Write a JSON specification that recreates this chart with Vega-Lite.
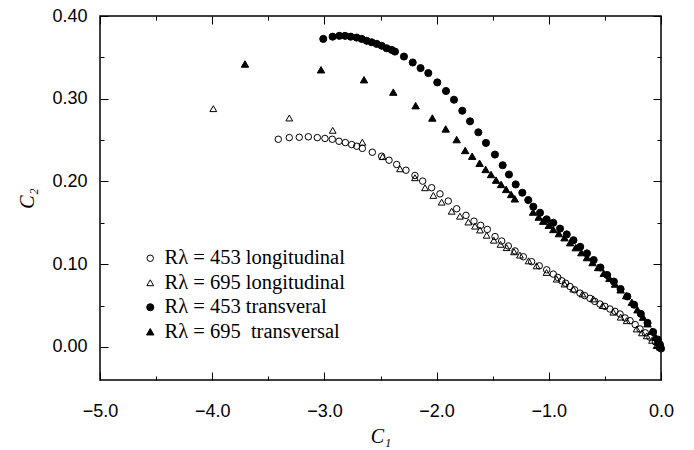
{
 "$schema": "https://vega.github.io/schema/vega-lite/v6.json",
 "width": 561, "height": 364,
 "autosize": {"type": "none"},
 "padding": {"left": 100, "top": 16, "right": 33, "bottom": 70},
 "background": "white",
 "config": {"view": {"stroke": "black", "strokeWidth": 1.5}, "axis": {"grid": false},
   "legend": {"orient": "none", "legendX": 40, "legendY": 232, "title": null, "padding": 0, "labelFont": "Liberation Serif", "labelFontSize": 20.5, "labelColor": "black", "labelLimit": 400, "symbolStrokeColor": "black", "symbolStrokeWidth": 1, "rowPadding": 3.5, "labelOffset": 4}},
 "datasets": {
  "pts": [
   {"s":"Rλ = 453 longitudinal","x":-3.411,"y":0.251},{"s":"Rλ = 453 longitudinal","x":-3.313,"y":0.253},{"s":"Rλ = 453 longitudinal","x":-3.224,"y":0.2534},{"s":"Rλ = 453 longitudinal","x":-3.143,"y":0.254},{"s":"Rλ = 453 longitudinal","x":-3.063,"y":0.253},{"s":"Rλ = 453 longitudinal","x":-2.995,"y":0.252},{"s":"Rλ = 453 longitudinal","x":-2.93,"y":0.251},{"s":"Rλ = 453 longitudinal","x":-2.87,"y":0.2486},{"s":"Rλ = 453 longitudinal","x":-2.813,"y":0.247},{"s":"Rλ = 453 longitudinal","x":-2.757,"y":0.2446},{"s":"Rλ = 453 longitudinal","x":-2.712,"y":0.2426},{"s":"Rλ = 453 longitudinal","x":-2.662,"y":0.24},{"s":"Rλ = 453 longitudinal","x":-2.573,"y":0.2353},{"s":"Rλ = 453 longitudinal","x":-2.49,"y":0.2305},{"s":"Rλ = 453 longitudinal","x":-2.424,"y":0.2257},{"s":"Rλ = 453 longitudinal","x":-2.356,"y":0.2205},{"s":"Rλ = 453 longitudinal","x":-2.273,"y":0.2136},{"s":"Rλ = 453 longitudinal","x":-2.193,"y":0.2072},{"s":"Rλ = 453 longitudinal","x":-2.124,"y":0.2004},{"s":"Rλ = 453 longitudinal","x":-2.044,"y":0.1924},{"s":"Rλ = 453 longitudinal","x":-1.97,"y":0.185},{"s":"Rλ = 453 longitudinal","x":-1.896,"y":0.1763},{"s":"Rλ = 453 longitudinal","x":-1.821,"y":0.167},{"s":"Rλ = 453 longitudinal","x":-1.738,"y":0.159},{"s":"Rλ = 453 longitudinal","x":-1.667,"y":0.152},{"s":"Rλ = 453 longitudinal","x":-1.607,"y":0.147},{"s":"Rλ = 453 longitudinal","x":-1.548,"y":0.142},{"s":"Rλ = 453 longitudinal","x":-1.479,"y":0.1334},{"s":"Rλ = 453 longitudinal","x":-1.42,"y":0.128},{"s":"Rλ = 453 longitudinal","x":-1.361,"y":0.122},{"s":"Rλ = 453 longitudinal","x":-1.301,"y":0.116},{"s":"Rλ = 453 longitudinal","x":-1.227,"y":0.109},{"s":"Rλ = 453 longitudinal","x":-1.153,"y":0.103},{"s":"Rλ = 453 longitudinal","x":-1.085,"y":0.098},{"s":"Rλ = 453 longitudinal","x":-1.019,"y":0.0932},{"s":"Rλ = 453 longitudinal","x":-0.96,"y":0.088},{"s":"Rλ = 453 longitudinal","x":-0.92,"y":0.084},{"s":"Rλ = 453 longitudinal","x":-0.885,"y":0.08},{"s":"Rλ = 453 longitudinal","x":-0.85,"y":0.077},{"s":"Rλ = 453 longitudinal","x":-0.811,"y":0.073},{"s":"Rλ = 453 longitudinal","x":-0.77,"y":0.069},{"s":"Rλ = 453 longitudinal","x":-0.722,"y":0.065},{"s":"Rλ = 453 longitudinal","x":-0.68,"y":0.062},{"s":"Rλ = 453 longitudinal","x":-0.633,"y":0.0587},{"s":"Rλ = 453 longitudinal","x":-0.59,"y":0.055},{"s":"Rλ = 453 longitudinal","x":-0.544,"y":0.0518},{"s":"Rλ = 453 longitudinal","x":-0.5,"y":0.049},{"s":"Rλ = 453 longitudinal","x":-0.455,"y":0.0458},{"s":"Rλ = 453 longitudinal","x":-0.41,"y":0.043},{"s":"Rλ = 453 longitudinal","x":-0.365,"y":0.0398},{"s":"Rλ = 453 longitudinal","x":-0.32,"y":0.035},{"s":"Rλ = 453 longitudinal","x":-0.276,"y":0.0317},{"s":"Rλ = 453 longitudinal","x":-0.23,"y":0.027},{"s":"Rλ = 453 longitudinal","x":-0.187,"y":0.0217},{"s":"Rλ = 453 longitudinal","x":-0.14,"y":0.017},{"s":"Rλ = 453 longitudinal","x":-0.098,"y":0.0117},{"s":"Rλ = 453 longitudinal","x":-0.05,"y":0.006},{"s":"Rλ = 453 longitudinal","x":-0.02,"y":0.002},{"s":"Rλ = 453 longitudinal","x":-0.005,"y":0.0005},
   {"s":"Rλ = 695 longitudinal","x":-3.99,"y":0.288},{"s":"Rλ = 695 longitudinal","x":-3.313,"y":0.2767},{"s":"Rλ = 695 longitudinal","x":-2.926,"y":0.2618},{"s":"Rλ = 695 longitudinal","x":-2.662,"y":0.2474},{"s":"Rλ = 695 longitudinal","x":-2.481,"y":0.23},{"s":"Rλ = 695 longitudinal","x":-2.326,"y":0.2153},{"s":"Rλ = 695 longitudinal","x":-2.193,"y":0.2045},{"s":"Rλ = 695 longitudinal","x":-2.103,"y":0.1924},{"s":"Rλ = 695 longitudinal","x":-2.029,"y":0.1831},{"s":"Rλ = 695 longitudinal","x":-1.955,"y":0.175},{"s":"Rλ = 695 longitudinal","x":-1.866,"y":0.164},{"s":"Rλ = 695 longitudinal","x":-1.792,"y":0.158},{"s":"Rλ = 695 longitudinal","x":-1.717,"y":0.151},{"s":"Rλ = 695 longitudinal","x":-1.658,"y":0.146},{"s":"Rλ = 695 longitudinal","x":-1.613,"y":0.1413},{"s":"Rλ = 695 longitudinal","x":-1.554,"y":0.135},{"s":"Rλ = 695 longitudinal","x":-1.49,"y":0.129},{"s":"Rλ = 695 longitudinal","x":-1.43,"y":0.124},{"s":"Rλ = 695 longitudinal","x":-1.376,"y":0.12},{"s":"Rλ = 695 longitudinal","x":-1.31,"y":0.115},{"s":"Rλ = 695 longitudinal","x":-1.257,"y":0.111},{"s":"Rλ = 695 longitudinal","x":-1.18,"y":0.104},{"s":"Rλ = 695 longitudinal","x":-1.109,"y":0.098},{"s":"Rλ = 695 longitudinal","x":-1.02,"y":0.09},{"s":"Rλ = 695 longitudinal","x":-0.93,"y":0.082},{"s":"Rλ = 695 longitudinal","x":-0.86,"y":0.076},{"s":"Rλ = 695 longitudinal","x":-0.782,"y":0.07},{"s":"Rλ = 695 longitudinal","x":-0.7,"y":0.064},{"s":"Rλ = 695 longitudinal","x":-0.603,"y":0.058},{"s":"Rλ = 695 longitudinal","x":-0.52,"y":0.05},{"s":"Rλ = 695 longitudinal","x":-0.425,"y":0.042},{"s":"Rλ = 695 longitudinal","x":-0.36,"y":0.036},{"s":"Rλ = 695 longitudinal","x":-0.306,"y":0.0317},{"s":"Rλ = 695 longitudinal","x":-0.217,"y":0.0217},{"s":"Rλ = 695 longitudinal","x":-0.17,"y":0.017},{"s":"Rλ = 695 longitudinal","x":-0.127,"y":0.0134},{"s":"Rλ = 695 longitudinal","x":-0.08,"y":0.008},{"s":"Rλ = 695 longitudinal","x":-0.039,"y":0.0016},{"s":"Rλ = 695 longitudinal","x":-0.01,"y":0.0},
   {"s":"Rλ = 453 transveral","x":-3.01,"y":0.3723},{"s":"Rλ = 453 transveral","x":-2.927,"y":0.375},{"s":"Rλ = 453 transveral","x":-2.867,"y":0.376},{"s":"Rλ = 453 transveral","x":-2.816,"y":0.376},{"s":"Rλ = 453 transveral","x":-2.766,"y":0.375},{"s":"Rλ = 453 transveral","x":-2.713,"y":0.3739},{"s":"Rλ = 453 transveral","x":-2.668,"y":0.3723},{"s":"Rλ = 453 transveral","x":-2.623,"y":0.37},{"s":"Rλ = 453 transveral","x":-2.579,"y":0.3683},{"s":"Rλ = 453 transveral","x":-2.534,"y":0.3663},{"s":"Rλ = 453 transveral","x":-2.489,"y":0.364},{"s":"Rλ = 453 transveral","x":-2.445,"y":0.361},{"s":"Rλ = 453 transveral","x":-2.4,"y":0.359},{"s":"Rλ = 453 transveral","x":-2.371,"y":0.357},{"s":"Rλ = 453 transveral","x":-2.291,"y":0.351},{"s":"Rλ = 453 transveral","x":-2.213,"y":0.3438},{"s":"Rλ = 453 transveral","x":-2.143,"y":0.337},{"s":"Rλ = 453 transveral","x":-2.074,"y":0.331},{"s":"Rλ = 453 transveral","x":-1.994,"y":0.3197},{"s":"Rλ = 453 transveral","x":-1.916,"y":0.3093},{"s":"Rλ = 453 transveral","x":-1.845,"y":0.2988},{"s":"Rλ = 453 transveral","x":-1.771,"y":0.2855},{"s":"Rλ = 453 transveral","x":-1.702,"y":0.2727},{"s":"Rλ = 453 transveral","x":-1.628,"y":0.2594},{"s":"Rλ = 453 transveral","x":-1.56,"y":0.2466},{"s":"Rλ = 453 transveral","x":-1.48,"y":0.2325},{"s":"Rλ = 453 transveral","x":-1.411,"y":0.2196},{"s":"Rλ = 453 transveral","x":-1.355,"y":0.2084},{"s":"Rλ = 453 transveral","x":-1.295,"y":0.1964},{"s":"Rλ = 453 transveral","x":-1.236,"y":0.1864},{"s":"Rλ = 453 transveral","x":-1.183,"y":0.1775},{"s":"Rλ = 453 transveral","x":-1.138,"y":0.1695},{"s":"Rλ = 453 transveral","x":-1.078,"y":0.1622},{"s":"Rλ = 453 transveral","x":-1.019,"y":0.1542},{"s":"Rλ = 453 transveral","x":-0.96,"y":0.15},{"s":"Rλ = 453 transveral","x":-0.9,"y":0.143},{"s":"Rλ = 453 transveral","x":-0.84,"y":0.136},{"s":"Rλ = 453 transveral","x":-0.78,"y":0.129},{"s":"Rλ = 453 transveral","x":-0.72,"y":0.121},{"s":"Rλ = 453 transveral","x":-0.66,"y":0.113},{"s":"Rλ = 453 transveral","x":-0.6,"y":0.105},{"s":"Rλ = 453 transveral","x":-0.54,"y":0.096},{"s":"Rλ = 453 transveral","x":-0.48,"y":0.087},{"s":"Rλ = 453 transveral","x":-0.42,"y":0.079},{"s":"Rλ = 453 transveral","x":-0.36,"y":0.07},{"s":"Rλ = 453 transveral","x":-0.3,"y":0.061},{"s":"Rλ = 453 transveral","x":-0.24,"y":0.051},{"s":"Rλ = 453 transveral","x":-0.18,"y":0.04},{"s":"Rλ = 453 transveral","x":-0.12,"y":0.029},{"s":"Rλ = 453 transveral","x":-0.07,"y":0.018},{"s":"Rλ = 453 transveral","x":-0.03,"y":0.009},{"s":"Rλ = 453 transveral","x":-0.01,"y":0.003},{"s":"Rλ = 453 transveral","x":0.0,"y":-0.002},
   {"s":"Rλ = 695  transversal","x":-3.708,"y":0.342},{"s":"Rλ = 695  transversal","x":-3.03,"y":0.335},{"s":"Rλ = 695  transversal","x":-2.647,"y":0.323},{"s":"Rλ = 695  transversal","x":-2.386,"y":0.308},{"s":"Rλ = 695  transversal","x":-2.187,"y":0.2916},{"s":"Rλ = 695  transversal","x":-2.038,"y":0.2767},{"s":"Rλ = 695  transversal","x":-1.919,"y":0.2635},{"s":"Rλ = 695  transversal","x":-1.821,"y":0.2506},{"s":"Rλ = 695  transversal","x":-1.745,"y":0.2375},{"s":"Rλ = 695  transversal","x":-1.683,"y":0.2305},{"s":"Rλ = 695  transversal","x":-1.617,"y":0.222},{"s":"Rλ = 695  transversal","x":-1.563,"y":0.2145},{"s":"Rλ = 695  transversal","x":-1.515,"y":0.2084},{"s":"Rλ = 695  transversal","x":-1.47,"y":0.2016},{"s":"Rλ = 695  transversal","x":-1.425,"y":0.1964},{"s":"Rλ = 695  transversal","x":-1.38,"y":0.1904},{"s":"Rλ = 695  transversal","x":-1.336,"y":0.1843},{"s":"Rλ = 695  transversal","x":-1.303,"y":0.179},{"s":"Rλ = 695  transversal","x":-1.14,"y":0.163},{"s":"Rλ = 695  transversal","x":-1.09,"y":0.157},{"s":"Rλ = 695  transversal","x":-1.05,"y":0.152},{"s":"Rλ = 695  transversal","x":-1.0,"y":0.147},{"s":"Rλ = 695  transversal","x":-0.96,"y":0.142},{"s":"Rλ = 695  transversal","x":-0.91,"y":0.137},{"s":"Rλ = 695  transversal","x":-0.86,"y":0.132},{"s":"Rλ = 695  transversal","x":-0.81,"y":0.126},{"s":"Rλ = 695  transversal","x":-0.76,"y":0.12},{"s":"Rλ = 695  transversal","x":-0.71,"y":0.114},{"s":"Rλ = 695  transversal","x":-0.66,"y":0.108},{"s":"Rλ = 695  transversal","x":-0.61,"y":0.102},{"s":"Rλ = 695  transversal","x":-0.56,"y":0.096},{"s":"Rλ = 695  transversal","x":-0.51,"y":0.089},{"s":"Rλ = 695  transversal","x":-0.46,"y":0.083},{"s":"Rλ = 695  transversal","x":-0.41,"y":0.076},{"s":"Rλ = 695  transversal","x":-0.36,"y":0.069},{"s":"Rλ = 695  transversal","x":-0.31,"y":0.062},{"s":"Rλ = 695  transversal","x":-0.26,"y":0.054},{"s":"Rλ = 695  transversal","x":-0.21,"y":0.045},{"s":"Rλ = 695  transversal","x":-0.16,"y":0.036},{"s":"Rλ = 695  transversal","x":-0.12,"y":0.028},{"s":"Rλ = 695  transversal","x":-0.08,"y":0.019},{"s":"Rλ = 695  transversal","x":-0.05,"y":0.012},{"s":"Rλ = 695  transversal","x":-0.03,"y":0.007},{"s":"Rλ = 695  transversal","x":-0.015,"y":0.003},{"s":"Rλ = 695  transversal","x":-0.005,"y":0.0}
  ]
 },
 "data": {"name": "pts"},
 "layer": [
  {
   "mark": {"type": "point", "filled": true, "strokeWidth": 1, "opacity": 1},
   "encoding": {
    "x": {"field": "x", "type": "quantitative", "scale": {"domain": [-5, 0], "nice": false, "zero": false},
      "axis": {"orient": "bottom", "values": [-5, -4, -3, -2, -1, 0], "format": ".1f", "ticks": false, "domain": false, "labelFlush": false, "labelFont": "Liberation Sans", "labelFontSize": 18, "labelColor": "black", "labelPadding": 22, "title": "C₁", "titleFont": "Liberation Serif", "titleFontStyle": "italic", "titleFontWeight": "normal", "titleFontSize": 20, "titleColor": "black", "titlePadding": 6}},
    "y": {"field": "y", "type": "quantitative", "scale": {"domain": [-0.04, 0.40], "nice": false, "zero": false},
      "axis": {"orient": "left", "values": [0, 0.1, 0.2, 0.3, 0.4], "format": ".2f", "ticks": false, "domain": false, "labelFlush": false, "labelFont": "Liberation Sans", "labelFontSize": 18, "labelColor": "black", "labelPadding": 13, "title": "C₂", "titleFont": "Liberation Serif", "titleFontStyle": "italic", "titleFontWeight": "normal", "titleFontSize": 20, "titleColor": "black", "titlePadding": 14}},
    "shape": {"field": "s", "type": "nominal",
      "scale": {"domain": ["Rλ = 453 longitudinal", "Rλ = 695 longitudinal", "Rλ = 453 transveral", "Rλ = 695  transversal"], "range": ["circle", "triangle-up", "circle", "triangle-up"]},
      "legend": {"labelExpr": "replace(datum.label, '695  t', '695\u00a0\u00a0t')"}},
    "fill": {"field": "s", "type": "nominal",
      "scale": {"domain": ["Rλ = 453 longitudinal", "Rλ = 695 longitudinal", "Rλ = 453 transveral", "Rλ = 695  transversal"], "range": ["transparent", "transparent", "black", "black"]},
      "legend": {"labelExpr": "replace(datum.label, '695  t', '695\u00a0\u00a0t')"}},
    "stroke": {"field": "s", "type": "nominal",
      "scale": {"domain": ["Rλ = 453 longitudinal", "Rλ = 695 longitudinal", "Rλ = 453 transveral", "Rλ = 695  transversal"], "range": ["black", "black", "black", "black"]},
      "legend": {"labelExpr": "replace(datum.label, '695  t', '695\u00a0\u00a0t')"}},
    "size": {"field": "s", "type": "nominal",
      "scale": {"domain": ["Rλ = 453 longitudinal", "Rλ = 695 longitudinal", "Rλ = 453 transveral", "Rλ = 695  transversal"], "range": [42, 55, 52, 55]},
      "legend": {"labelExpr": "replace(datum.label, '695  t', '695\u00a0\u00a0t')"}}
   }
  },
  {
   "mark": {"type": "point", "opacity": 0},
   "encoding": {
    "x": {"field": "x", "type": "quantitative", "scale": {"domain": [-5, 0], "nice": false, "zero": false},
      "axis": {"orient": "bottom", "values": [-5, -4.5, -4, -3.5, -3, -2.5, -2, -1.5, -1, -0.5, 0], "labels": false, "domain": false, "title": null, "tickColor": "black", "tickWidth": 1, "tickSize": {"condition": {"test": "round(datum.value*10) % 10 === 0", "value": -8}, "value": -4}}},
    "y": {"field": "y", "type": "quantitative", "scale": {"domain": [-0.04, 0.40], "nice": false, "zero": false},
      "axis": {"orient": "left", "values": [0, 0.05, 0.1, 0.15, 0.2, 0.25, 0.3, 0.35, 0.4], "labels": false, "domain": false, "title": null, "tickColor": "black", "tickWidth": 1, "tickSize": {"condition": {"test": "round(datum.value*100) % 10 === 0", "value": -8}, "value": -4}}}
   }
  },
  {
   "mark": {"type": "point", "opacity": 0},
   "encoding": {
    "x": {"field": "x", "type": "quantitative", "scale": {"domain": [-5, 0], "nice": false, "zero": false},
      "axis": {"orient": "top", "values": [-5, -4.5, -4, -3.5, -3, -2.5, -2, -1.5, -1, -0.5, 0], "labels": false, "domain": false, "title": null, "tickColor": "black", "tickWidth": 1, "tickSize": {"condition": {"test": "round(datum.value*10) % 10 === 0", "value": -8}, "value": -4}}},
    "y": {"field": "y", "type": "quantitative", "scale": {"domain": [-0.04, 0.40], "nice": false, "zero": false},
      "axis": {"orient": "right", "values": [0, 0.05, 0.1, 0.15, 0.2, 0.25, 0.3, 0.35, 0.4], "labels": false, "domain": false, "title": null, "tickColor": "black", "tickWidth": 1, "tickSize": {"condition": {"test": "round(datum.value*100) % 10 === 0", "value": -8}, "value": -4}}}
   }
  }
 ],
 "resolve": {"axis": {"x": "independent", "y": "independent"}}
}
